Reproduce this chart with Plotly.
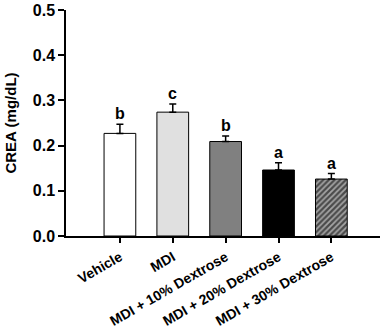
import plotly.graph_objects as go

categories = ["Vehicle", "MDI", "MDI + 10% Dextrose", "MDI + 20% Dextrose", "MDI + 30% Dextrose"]
values = [0.227, 0.274, 0.209, 0.146, 0.126]
errors = [0.020, 0.018, 0.012, 0.016, 0.012]
letters = ["b", "c", "b", "a", "a"]
colors = ["#ffffff", "#e0e0e0", "#808080", "#000000", "#4a4a4a"]
y_ticks = [0.0, 0.1, 0.2, 0.3, 0.4, 0.5]

fig = go.Figure()
fig.add_trace(go.Bar(
    x=categories, y=values, width=0.6,
    marker=dict(
        color=colors,
        line=dict(color="black", width=1),
        pattern=dict(shape=["", "", "", "", "/"], fgcolor="#111111", bgcolor="#585858", size=4, solidity=0.45),
    ),
    error_y=dict(type="data", array=errors, arrayminus=[0]*5, symmetric=False,
                 color="black", thickness=1.5, width=3.5),
    showlegend=False,
))

for c, v, e, l in zip(categories, values, errors, letters):
    fig.add_annotation(x=c, y=v + e, text=l, showarrow=False, yanchor="bottom", yshift=0,
                       font=dict(family="Liberation Sans, Arial", size=16, color="black", weight="bold"))

fig.update_layout(
    width=387, height=327,
    margin=dict(l=66, r=7, t=10, b=91),
    plot_bgcolor="white", paper_bgcolor="white",
    font=dict(family="Liberation Sans, Arial", color="black"),
)
fig.update_xaxes(
    range=[-1.02, 4.92], showline=True, linecolor="black", linewidth=1.5,
    ticks="outside", ticklen=5, tickwidth=1.5, tickcolor="black",
    tickangle=-30, tickfont=dict(size=14, weight="bold"), showgrid=False,
    ticklabelstandoff=1, automargin=False,
)
fig.update_yaxes(
    range=[0, 0.5], tickvals=y_ticks, ticktext=[f"{t:.1f}" for t in y_ticks],
    showline=True, linecolor="black", linewidth=1.5,
    ticks="outside", ticklen=6, tickwidth=1.5, tickcolor="black",
    tickfont=dict(size=16, weight="bold"), showgrid=False, zeroline=False,
    title=dict(text="CREA (mg/dL)", font=dict(size=15, weight="bold"), standoff=13),
    automargin=False,
)
fig.write_html("out.html", config={"displayModeBar": False},
               post_script="document.body.style.margin='0';")
